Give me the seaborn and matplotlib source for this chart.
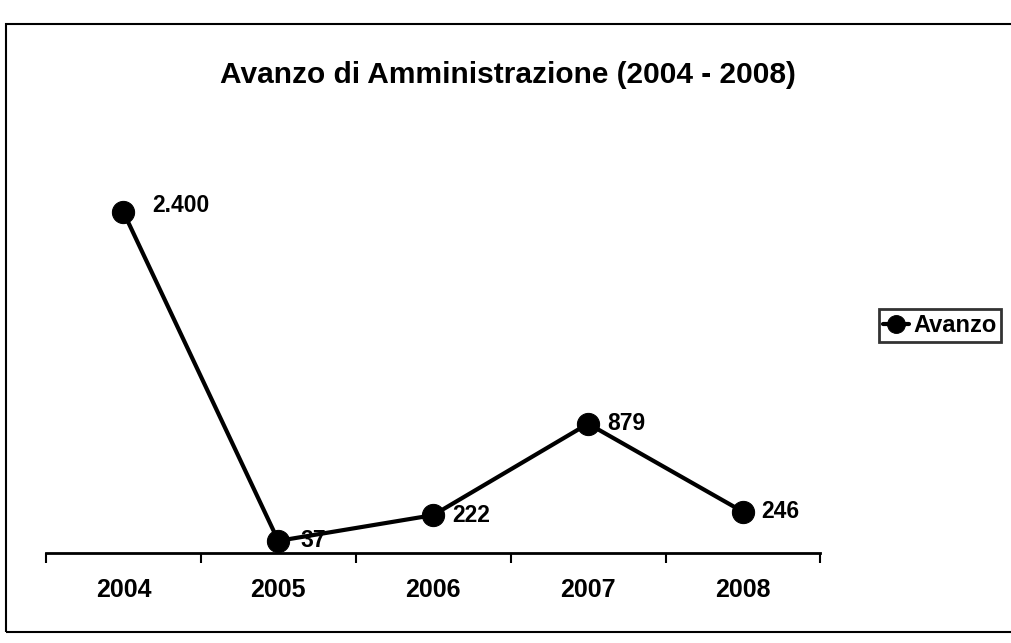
import matplotlib
matplotlib.use('Agg')
import matplotlib.pyplot as plt
import seaborn as sns
import numpy as np
from matplotlib.patches import Rectangle

# dati
anni = ['2004', '2005', '2006', '2007', '2008']
avanzo = [2400, 37, 222, 879, 246]
etichette = ['2.400', '37', '222', '879', '246']

sns.set_style('white')
plt.rcParams['font.family'] = ['Liberation Sans', 'DejaVu Sans']
plt.rcParams['font.weight'] = 'bold'
plt.rcParams['text.color'] = 'black'
plt.rcParams['xtick.color'] = 'black'
plt.rcParams['xtick.labelcolor'] = 'black'

fig = plt.figure(figsize=(10.11, 6.43), dpi=100)
ax = fig.add_axes([0.0455, 0.14, 0.766, 0.66])

pos = np.arange(len(anni))
sns.lineplot(x=pos, y=avanzo, ax=ax, color='black', linewidth=3,
             marker='o', markersize=16, markeredgecolor='black',
             label='Avanzo', clip_on=False)

# etichette dati a destra dei punti
spost_x = [21, 16, 14, 14, 13]
spost_y = [5, 0, 0, 0, 0]
for i, (v, t) in enumerate(zip(avanzo, etichette)):
    ax.annotate(t, (pos[i], v), xytext=(spost_x[i], spost_y[i]), textcoords='offset points',
                va='center', ha='left', fontsize=16.5, fontweight='bold')

ax.set_xlim(-0.5, len(anni) - 0.5)
ax.set_ylim(-50, 3000)
ax.set_xticks(pos)
ax.set_xticklabels(anni, fontsize=18, fontweight='bold')
ax.set_xticks(np.arange(-0.5, len(anni)), minor=True)
ax.tick_params(axis='x', which='major', length=0, pad=18)
ax.tick_params(axis='x', which='minor', length=7, width=1.5, direction='out', color='black', bottom=True)
ax.set_yticks([])
for s in ['top', 'right', 'left']:
    ax.spines[s].set_visible(False)
ax.spines['bottom'].set_linewidth(2)
ax.spines['bottom'].set_color('black')

fig.text(0.502, 0.883, 'Avanzo di Amministrazione (2004 - 2008)',
         ha='center', va='center', fontsize=21.5, fontweight='bold')

leg = ax.legend(loc='center right', bbox_to_anchor=(0.99, 0.494), bbox_transform=fig.transFigure,
                frameon=True, fancybox=False, fontsize=17, handlelength=1.1,
                handletextpad=0.15, borderpad=0.2, borderaxespad=0, markerscale=0.8)
leg.get_frame().set_edgecolor('black')
leg.get_frame().set_linewidth(2)
for t in leg.get_texts():
    t.set_fontweight('bold')

# cornice del grafico
fig.patches.append(Rectangle((0.006, 0.017), 1.2, 0.945, transform=fig.transFigure,
                             fill=False, edgecolor='black', linewidth=1.5))

fig.savefig('out.png', dpi=100)
